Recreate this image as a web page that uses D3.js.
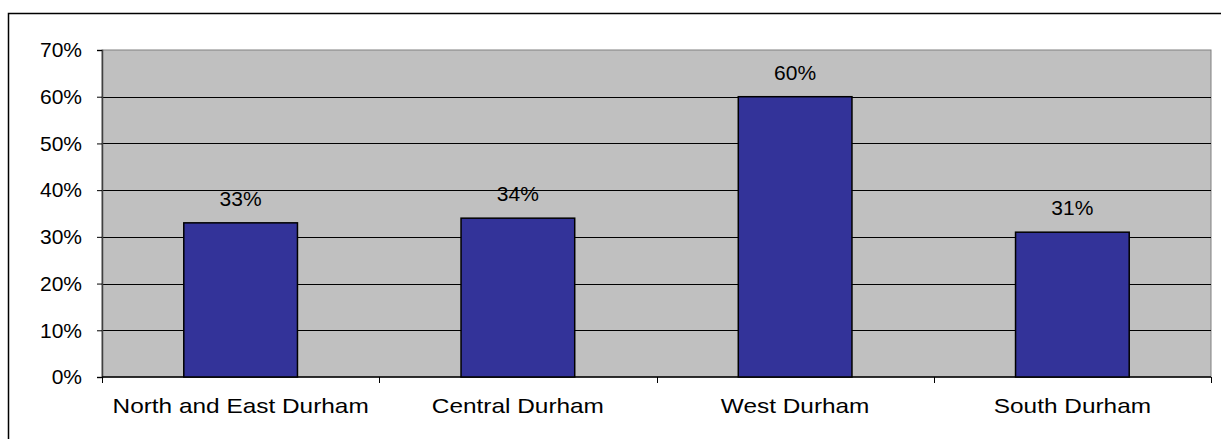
<!DOCTYPE html>
<html lang="en">
<head>
  <meta charset="UTF-8">
  <title>Durham areas</title>
  <script src="https://d3js.org/d3.v7.min.js"></script>
  <style>
    body { margin: 0; background: #fff; }
    svg { display: block; }
    text { font-family: "Liberation Sans", Arial, sans-serif; fill: #000; }
  </style>
</head>
<body>
<div id="chart"></div>
<script>
// data
var areas = ["North and East Durham", "Central Durham", "West Durham", "South Durham"];
var values = [33, 34, 60, 31];
var yTicks = [0, 10, 20, 30, 40, 50, 60, 70];

var W = 1221, H = 439;
// plot area
var margin = {top: 50, right: 10, bottom: 62, left: 102},
  width = W - margin.left - margin.right,
  height = H - margin.top - margin.bottom;

var svg = d3.select("#chart")
  .append("svg")
  .attr("width", W)
  .attr("height", H);

// outer frame (runs off the right and bottom edge)
svg.append("rect")
  .attr("x", 8.5).attr("y", 13.5)
  .attr("width", W + 20).attr("height", H + 20)
  .style("fill", "none")
  .style("stroke", "#000")
  .style("stroke-width", 1.5);

var g = svg.append("g")
  .attr("transform", "translate(" + margin.left + "," + margin.top + ")");

var x = d3.scaleBand()
  .domain(areas)
  .range([0, width])
  .paddingInner(0.59)
  .paddingOuter(0.295);

var y = d3.scaleLinear()
  .domain([0, 70])
  .range([height, 0]);

// grey plot background
g.append("rect")
  .attr("width", width)
  .attr("height", height)
  .style("fill", "#c0c0c0")
  .style("stroke", "#808080")
  .style("stroke-width", 1);

// gridlines
g.selectAll(".grid")
  .data(yTicks.filter(function(d){ return d > 0 && d < 70; }))
  .enter().append("line")
    .attr("x1", 0).attr("x2", width)
    .attr("y1", function(d){ return Math.round(y(d)) + 0.5; })
    .attr("y2", function(d){ return Math.round(y(d)) + 0.5; })
    .style("stroke", "#000")
    .style("stroke-width", 1);

// y axis
var yAxis = g.append("g")
  .call(d3.axisLeft(y).tickValues(yTicks).tickSize(5).tickPadding(15)
    .tickFormat(function(d){ return d + "%"; }));
yAxis.select(".domain").style("stroke", "#404040").style("stroke-width", 1.5);
yAxis.selectAll(".tick line").style("stroke", "#000");
yAxis.selectAll("text")
  .style("font-size", "21px")
  .style("font-family", "Liberation Sans, Arial, sans-serif");

// x axis: ticks sit between categories
var bounds = d3.range(areas.length + 1).map(function(i){ return i * width / areas.length; });
var xAxis = g.append("g")
  .attr("transform", "translate(0," + height + ")");
xAxis.append("line")
  .attr("x1", 0).attr("x2", width)
  .style("stroke", "#000").style("stroke-width", 1.5);
xAxis.selectAll(".xt")
  .data(bounds)
  .enter().append("line")
    .attr("x1", function(d){ return Math.round(d) + 0.5; })
    .attr("x2", function(d){ return Math.round(d) + 0.5; })
    .attr("y1", 0).attr("y2", 6)
    .style("stroke", "#000");
// labels are drawn a little wide, as in the original
xAxis.selectAll(".xl")
  .data(areas)
  .enter().append("text")
    .attr("transform", function(d){
      return "translate(" + (x(d) + x.bandwidth() / 2) + ",36) scale(1.22,1)";
    })
    .attr("text-anchor", "middle")
    .style("font-size", "20px")
    .text(function(d){ return d; });

// bars
g.selectAll(".bar")
  .data(values)
  .enter().append("rect")
    .attr("x", function(d, i){ return x(areas[i]); })
    .attr("y", function(d){ return y(d); })
    .attr("width", x.bandwidth())
    .attr("height", function(d){ return height - y(d); })
    .style("fill", "#333399")
    .style("stroke", "#000")
    .style("stroke-width", 1.5);

// value labels
g.selectAll(".val")
  .data(values)
  .enter().append("text")
    .attr("x", function(d, i){ return x(areas[i]) + x.bandwidth() / 2; })
    .attr("y", function(d){ return y(d) - 17; })
    .attr("text-anchor", "middle")
    .style("font-size", "21px")
    .text(function(d){ return d + "%"; });
</script>
</body>
</html>
